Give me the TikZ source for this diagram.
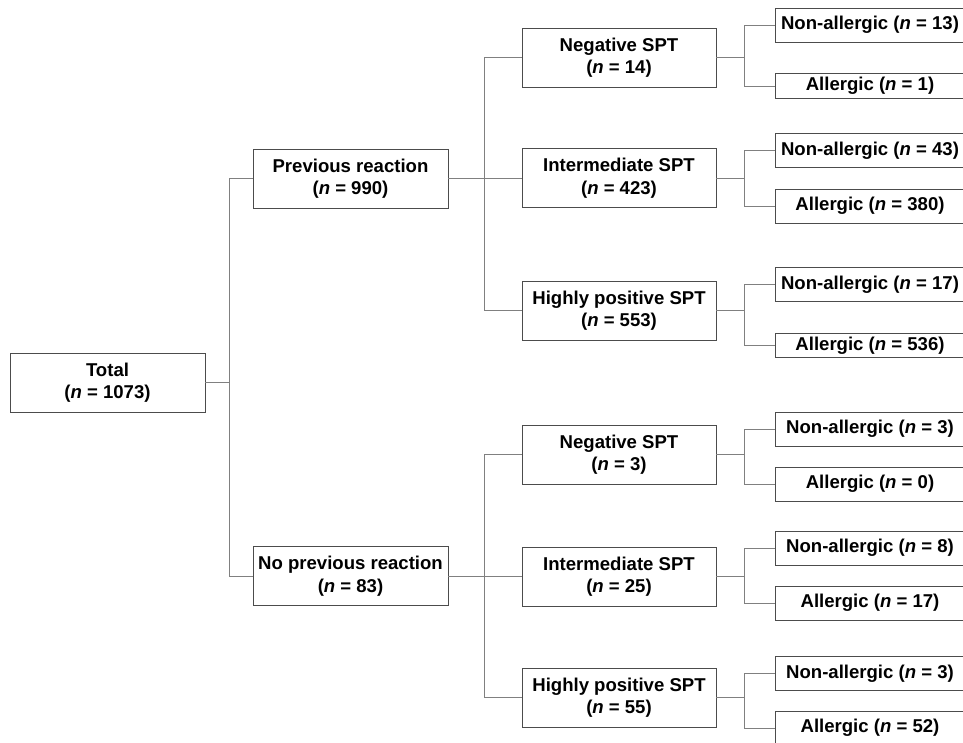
\documentclass[tikz,border=0pt]{standalone}
\usepackage{fontspec}
\setmainfont{Liberation Sans}
\definecolor{boxline}{gray}{0.3}
\definecolor{linkline}{gray}{0.5}

\begin{document}
\begin{tikzpicture}[
    x=0.025cm, y=-0.025cm,
    font=\fontsize{13.2}{16}\selectfont\bfseries,
    group/.style={draw=boxline, line width=0.6pt, align=center, inner sep=0pt, minimum width=4.875cm, minimum height=1.475cm},
    spt/.style={group, minimum width=4.85cm},
    leaf/.style={draw=boxline, line width=0.6pt, inner sep=0pt, minimum width=4.75cm, minimum height=0.85cm},
    thinleaf/.style={leaf, minimum height=0.62cm},
    link/.style={draw=linkline, line width=0.6pt}
]
\useasboundingbox (0,0) rectangle (963,743);

% Root and reaction groups
\node[group] (total) at (107.5,382.5) {Total\\(\textit{n} = 1073)};
\node[group] (prev) at (350.5,178.5) {Previous reaction\\(\textit{n} = 990)};
\node[group] (noprev) at (350.5,576) {No previous reaction\\(\textit{n} = 83)};

% SPT results
\node[spt] (prev-neg) at (619,57.5) {Negative SPT\\(\textit{n} = 14)};
\node[spt] (prev-int) at (619,178) {Intermediate SPT\\(\textit{n} = 423)};
\node[spt] (prev-high) at (619,310.5) {Highly positive SPT\\(\textit{n} = 553)};
\node[spt] (noprev-neg) at (619,454.5) {Negative SPT\\(\textit{n} = 3)};
\node[spt] (noprev-int) at (619,576.5) {Intermediate SPT\\(\textit{n} = 25)};
\node[spt] (noprev-high) at (619,697.5) {Highly positive SPT\\(\textit{n} = 55)};

% Outcomes
\node[leaf] (prev-neg-na) at (870,25) {Non-allergic (\textit{n} = 13)};
\node[thinleaf] (prev-neg-a) at (870,86) {Allergic (\textit{n} = 1)};
\node[leaf] (prev-int-na) at (870,150.5) {Non-allergic (\textit{n} = 43)};
\node[leaf] (prev-int-a) at (870,206) {Allergic (\textit{n} = 380)};
\node[leaf] (prev-high-na) at (870,284.5) {Non-allergic (\textit{n} = 17)};
\node[thinleaf] (prev-high-a) at (870,345.5) {Allergic (\textit{n} = 536)};
\node[leaf] (noprev-neg-na) at (870,429) {Non-allergic (\textit{n} = 3)};
\node[leaf] (noprev-neg-a) at (870,484) {Allergic (\textit{n} = 0)};
\node[leaf] (noprev-int-na) at (870,548) {Non-allergic (\textit{n} = 8)};
\node[leaf] (noprev-int-a) at (870,603) {Allergic (\textit{n} = 17)};
\node[leaf] (noprev-high-na) at (870,673.5) {Non-allergic (\textit{n} = 3)};
\node[leaf] (noprev-high-a) at (870,728) {Allergic (\textit{n} = 52)};

% Connectors
\draw[link] (total.east) -- ++(24,0) coordinate (total-fork);
\draw[link] (prev.west) -| (total-fork) |- (noprev.west);

\foreach \g in {prev,noprev} {
    \draw[link] (\g.east) -- ++(36,0) coordinate (\g-fork);
    \draw[link] (\g-neg.west) -| (\g-fork) |- (\g-high.west);
    \draw[link] (\g-fork) |- (\g-int.west);
}

\foreach \s in {prev-neg,prev-int,prev-high,noprev-neg,noprev-int,noprev-high} {
    \draw[link] (\s.east) -- ++(28,0) coordinate (\s-fork);
    \draw[link] (\s-na.west) -| (\s-fork) |- (\s-a.west);
}

\end{tikzpicture}
\end{document}
